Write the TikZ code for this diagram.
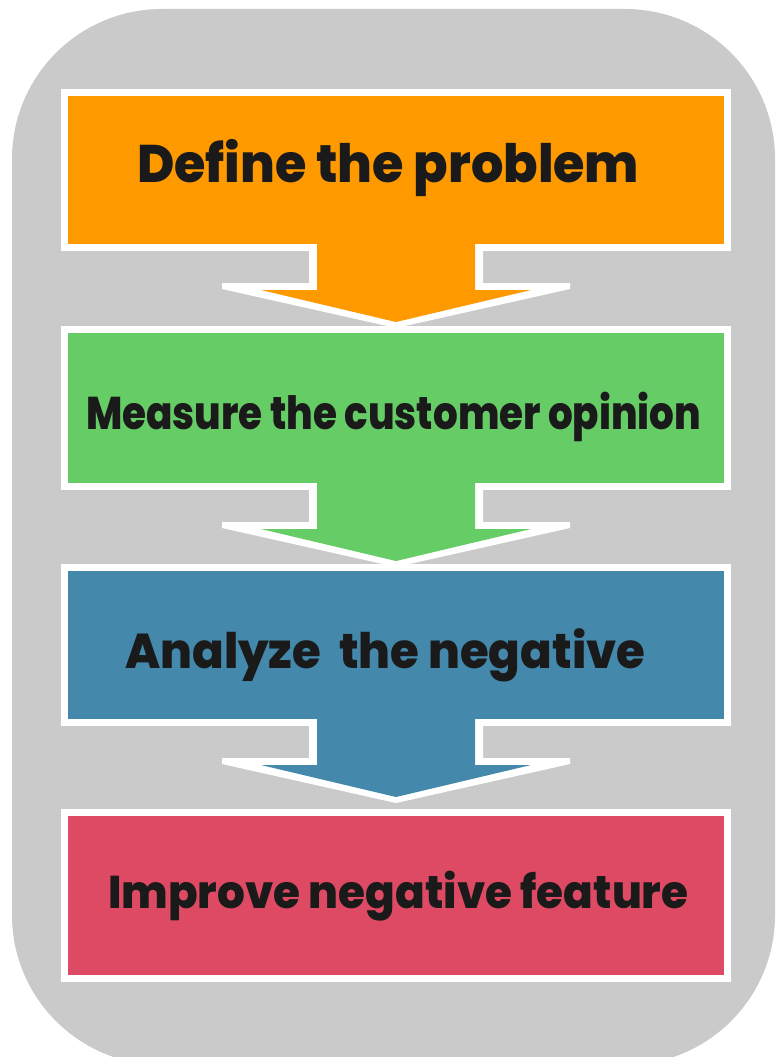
\documentclass[tikz,border=0pt]{standalone}
\usepackage{fontspec}
\usepackage{graphicx}
\setmainfont{Poppins}[BoldFont={Poppins ExtraBold}]
\usetikzlibrary{calc}
\definecolor{bg}{RGB}{202,202,202}
\definecolor{c1}{RGB}{255,153,0}
\definecolor{c2}{RGB}{102,204,102}
\definecolor{c3}{RGB}{68,136,172}
\definecolor{c4}{RGB}{222,74,99}
\definecolor{txt}{RGB}{26,26,26}
\begin{document}
\begin{tikzpicture}[x=1pt,y=-1pt,
  box/.style={rectangle, draw=white, line width=7pt, minimum width=663pt, inner sep=0pt, outer sep=0pt},
  lbl/.style={inner sep=0pt, anchor=base west, text=txt, font=\bfseries}]
\useasboundingbox (0,0) rectangle (776,1057);
\fill[white] (0,0) rectangle (776,1057);
\fill[bg, rounded corners=150pt] (12,9) rectangle (775,1065);

\node[box, fill=c1, minimum height=155pt] (b1) at (396,170) {};
\node[box, fill=c2, minimum height=157pt] (b2) at (396,408) {};
\node[box, fill=c3, minimum height=155pt] (b3) at (396,645) {};
\node[box, fill=c4, minimum height=166pt] (b4) at (396,895.5) {};

\foreach \b/\c in {b1/c1,b2/c2,b3/c3}{
  \begin{scope}[shift={($(\b.south)+(0,-3.5)$)}]
    \fill[white] (-87,0) -- (-87,39) -- (-174,39) -- (-174,45) -- (0,84)
      -- (174,45) -- (174,39) -- (87,39) -- (87,0) -- cycle;
    \fill[\c] (-79,-4) -- (-79,46) -- (-135,46) -- (0,78) -- (135,46)
      -- (79,46) -- (79,-4) -- cycle;
  \end{scope}
}

\node[lbl] (t1) at (137,182) {\scalebox{1}[1.04]{\resizebox{502pt}{!}{Define the problem}}};
\node[lbl] (t2) at (86,429) {\scalebox{1}[1.18]{\resizebox{615pt}{!}{Measure the customer opinion}}};
\node[lbl] (t3) at (125,668) {\scalebox{1}[1.05]{\resizebox{520pt}{!}{Analyze\ \ the negative}}};
\node[lbl] (t4) at (108,908) {\scalebox{1}[1.05]{\resizebox{580pt}{!}{Improve negative feature}}};
\end{tikzpicture}
\end{document}
